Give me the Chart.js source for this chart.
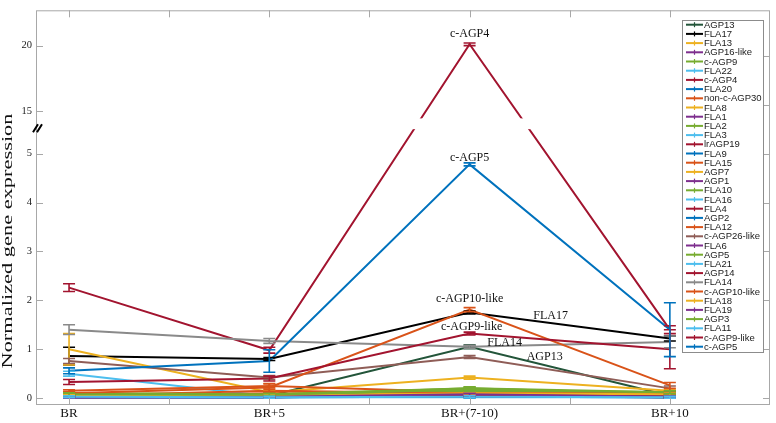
<!DOCTYPE html>
<html><head><meta charset="utf-8">
<script src="https://cdn.jsdelivr.net/npm/chart.js@4.4.0/dist/chart.umd.min.js"></script>
<style>html,body{margin:0;padding:0;background:#fff;}#wrap{width:776px;height:423px;position:relative;}</style>
</head><body><div id="wrap"><canvas id="c" width="776" height="423"></canvas></div>
<script>
// ---------- data ----------
const categories = ['BR', 'BR+5', 'BR+(7-10)', 'BR+10'];
const categoryX = [1, 3, 5, 7];
const seriesNames = ['AGP13','FLA17','FLA13','AGP16-like','c-AGP9','FLA22','c-AGP4','FLA20','non-c-AGP30','FLA8','FLA1','FLA2','FLA3','lrAGP19','FLA9','FLA15','AGP7','AGP1','FLA10','FLA16','FLA4','AGP2','FLA12','c-AGP26-like','FLA6','AGP5','FLA21','AGP14','FLA14','c-AGP10-like','FLA18','FLA19','AGP3','FLA11','c-AGP9-like','c-AGP5'];
// values per category, same order as seriesNames
const valBR    = [0.05,0.86,1.00,0.02,0.08,0.50,2.26,0.03,0.15,0.05,0.02,0.10,0.02,0.03,0.02,0.05,0.04,0.03,0.06,0.03,0.02,0.02,0.05,0.76,0.02,0.10,0.04,0.04,1.40,0.10,0.05,0.02,0.08,0.03,0.33,0.56];
const valBR5   = [0.05,0.80,0.12,0.02,0.06,0.04,0.98,0.03,0.25,0.03,0.02,0.08,0.02,0.03,0.02,0.10,0.06,0.03,0.05,0.02,0.03,0.02,0.15,0.42,0.02,0.08,0.03,0.05,1.17,0.22,0.05,0.03,0.07,0.02,0.40,0.76];
const valBR710 = [1.05,1.75,0.42,0.08,0.20,0.03,20.1,0.10,0.12,0.10,0.05,0.15,0.02,0.05,0.03,0.08,0.10,0.08,0.18,0.04,0.04,0.05,0.10,0.84,0.06,0.20,0.05,0.06,1.05,1.81,0.10,0.08,0.17,0.03,1.32,4.78];
const valBR10  = [0.05,1.22,0.15,0.03,0.08,0.02,1.40,0.03,0.08,0.05,0.02,0.10,0.02,0.03,0.02,0.05,0.06,0.03,0.10,0.02,0.02,0.02,0.10,0.20,0.03,0.12,0.03,0.04,1.15,0.26,0.08,0.03,0.12,0.02,1.00,1.40];
// error bars (half-lengths)
const errBR    = [0.02,0.18,0.32,0.02,0.03,0.05,0.08,0.02,0.02,0.02,0.02,0.03,0.02,0.02,0.02,0.02,0.02,0.02,0.03,0.02,0.02,0.02,0.02,0.05,0.02,0.03,0.02,0.02,0.10,0.03,0.02,0.02,0.03,0.02,0.05,0.06];
const errBR5   = [0.02,0.03,0.04,0.02,0.02,0.02,0.06,0.02,0.04,0.02,0.02,0.02,0.02,0.02,0.02,0.03,0.02,0.02,0.02,0.02,0.02,0.02,0.03,0.04,0.02,0.02,0.02,0.02,0.05,0.08,0.02,0.02,0.02,0.02,0.05,0.23];
const errBR710 = [0.04,0.03,0.03,0.02,0.03,0.02,0.10,0.02,0.02,0.02,0.02,0.02,0.02,0.02,0.02,0.02,0.02,0.02,0.03,0.02,0.02,0.02,0.02,0.03,0.02,0.03,0.02,0.02,0.03,0.04,0.02,0.02,0.03,0.02,0.03,0.03];
const errBR10  = [0.04,0.05,0.03,0.02,0.03,0.02,0.08,0.02,0.03,0.02,0.02,0.03,0.02,0.02,0.02,0.02,0.02,0.02,0.03,0.02,0.02,0.02,0.03,0.05,0.02,0.03,0.02,0.02,0.12,0.06,0.02,0.02,0.03,0.02,0.40,0.55];
const yTickValues = [0, 1, 2, 3, 4, 5, 15, 20];
const xTickPositions = [1, 2, 3, 4, 5, 6, 7];
const annotText = ['c-AGP4','c-AGP5','c-AGP10-like','FLA17','c-AGP9-like','FLA14','AGP13'];
const annotX = [5, 5, 5, 5.81, 5.02, 5.35, 5.75];
const annotY = [20.9, 4.92, 2.03, 1.69, 1.45, 1.14, 0.84];

// ---------- styles ----------
const C = {blue:'#0072BD', orange:'#D95319', yellow:'#EDB120', purple:'#7E2F8E', green:'#77AC30', lblue:'#4DBEEE', red:'#A2142F'};
const seriesColors = ['#23553a','#000000',C.yellow,C.purple,C.green,C.lblue,C.red,C.blue,C.orange,C.yellow,C.purple,C.green,C.lblue,C.red,C.blue,C.orange,C.yellow,C.purple,C.green,C.lblue,C.red,C.blue,C.orange,'#8f5d57',C.purple,C.green,C.lblue,C.red,'#8a8a8a',C.orange,C.yellow,C.purple,C.green,C.lblue,C.red,C.blue];

// broken-axis transform: 0..5 linear, then 15..20 compressed
const BREAK_LO = 5.863, UPPER_SCALE = 0.269;
function T(v){ return v <= 5 ? v : BREAK_LO + (v - 15) * UPPER_SCALE; }

const valsByCat = [valBR, valBR5, valBR710, valBR10];
const errsByCat = [errBR, errBR5, errBR710, errBR10];
const N = seriesNames.length;

const datasets = seriesNames.map((name, i) => ({
  label: name,
  data: categoryX.map((cx, j) => ({x: cx, y: T(valsByCat[j][i])})),
  borderColor: seriesColors[i],
  backgroundColor: seriesColors[i],
  borderWidth: 2,
  pointRadius: 0,
  tension: 0,
  fill: false,
  order: N - i
}));

const AXIS = '#a8a8a8';
const SERIF = '"Liberation Serif", "Times New Roman", serif';
const SANS = '"Liberation Sans", Arial, sans-serif';

const decor = {
  id: 'decor',
  afterDatasetsDraw(chart){
    const {ctx, chartArea: a, scales: {x, y}} = chart;
    ctx.save();
    // break gap
    const g1 = y.getPixelForValue(5.72), g2 = y.getPixelForValue(5.50);
    ctx.fillStyle = '#fff';
    ctx.fillRect(a.left + 1, g1, a.right - a.left - 2, g2 - g1);
    // error bars
    for (let i = 0; i < N; i++){
      ctx.strokeStyle = seriesColors[i];
      ctx.lineWidth = 1.6;
      categoryX.forEach((cx, j) => {
        const v = valsByCat[j][i], e = errsByCat[j][i];
        const px = x.getPixelForValue(cx);
        const top = y.getPixelForValue(T(v + e)), bot = y.getPixelForValue(T(Math.max(v - e, 0)));
        ctx.beginPath();
        ctx.moveTo(px, top); ctx.lineTo(px, bot);
        ctx.moveTo(px - 6, top); ctx.lineTo(px + 6, top);
        ctx.moveTo(px - 6, bot); ctx.lineTo(px + 6, bot);
        ctx.stroke();
      });
    }
    // annotations
    ctx.fillStyle = '#111';
    ctx.font = '12px ' + SERIF;
    ctx.textAlign = 'center'; ctx.textBaseline = 'middle';
    annotText.forEach((t, k) => {
      ctx.fillText(t, x.getPixelForValue(annotX[k]), y.getPixelForValue(T(annotY[k])));
    });
    ctx.restore();
  },
  afterDraw(chart){
    const {ctx, chartArea: a, scales: {x, y}} = chart;
    ctx.save();
    // box
    ctx.strokeStyle = AXIS; ctx.lineWidth = 1;
    ctx.strokeRect(a.left + 0.5, a.top + 0.5, a.right - a.left - 1, a.bottom - a.top - 1);
    // ticks
    ctx.beginPath();
    xTickPositions.forEach(v => {
      const px = Math.round(x.getPixelForValue(v)) + 0.5;
      ctx.moveTo(px, a.bottom); ctx.lineTo(px, a.bottom - 7);
      ctx.moveTo(px, a.top); ctx.lineTo(px, a.top + 7);
    });
    yTickValues.forEach(v => {
      const py = Math.round(y.getPixelForValue(T(v))) + 0.5;
      ctx.moveTo(a.left, py); ctx.lineTo(a.left + 7, py);
    });
    for (let t = 0; t <= 7; t++){
      const py = Math.round(y.getPixelForValue(t)) + 0.5;
      ctx.moveTo(a.right, py); ctx.lineTo(a.right - 7, py);
    }
    ctx.stroke();
    // break mark
    ctx.strokeStyle = '#000'; ctx.lineWidth = 2;
    const by = y.getPixelForValue(5.52);
    ctx.beginPath();
    ctx.moveTo(a.left - 3, by + 4); ctx.lineTo(a.left + 2, by - 4);
    ctx.moveTo(a.left + 1, by + 4); ctx.lineTo(a.left + 6, by - 4);
    ctx.stroke();
    // legend
    const lx = 682, ly = 20, lw = 81, lh = 332, step = 9.2;
    ctx.fillStyle = '#fff'; ctx.fillRect(lx, ly, lw, lh);
    ctx.strokeStyle = '#8c8c8c'; ctx.lineWidth = 1;
    ctx.strokeRect(lx + 0.5, ly + 0.5, lw, lh);
    ctx.font = '9.5px ' + SANS; ctx.textAlign = 'left'; ctx.textBaseline = 'middle';
    chart.data.datasets.forEach((ds, i) => {
      const yy = ly + 4.7 + i * step;
      ctx.strokeStyle = ds.borderColor; ctx.lineWidth = 2;
      ctx.beginPath(); ctx.moveTo(lx + 4, yy); ctx.lineTo(lx + 21, yy); ctx.stroke();
      ctx.lineWidth = 1.2;
      ctx.beginPath(); ctx.moveTo(lx + 12.5, yy - 2.5); ctx.lineTo(lx + 12.5, yy + 2.5); ctx.stroke();
      ctx.fillStyle = '#1a1a1a';
      ctx.fillText(ds.label, lx + 22, yy + 0.5);
    });
    // y title (stretched along its length like the reference)
    ctx.translate(8, 241); ctx.rotate(-Math.PI / 2); ctx.scale(1.6, 1);
    ctx.fillStyle = '#111'; ctx.font = '14px ' + SERIF;
    ctx.textAlign = 'center'; ctx.textBaseline = 'middle';
    ctx.fillText('Normalized gene expression', 0, 0);
    ctx.restore();
  }
};

new Chart(document.getElementById('c'), {
  type: 'line',
  data: { datasets },
  options: {
    responsive: false, animation: false, devicePixelRatio: 1,
    layout: { padding: { top: 3, right: 6, left: 0, bottom: 0 } },
    plugins: { legend: { display: false }, tooltip: { enabled: false } },
    scales: {
      x: {
        type: 'linear', min: 0.67, max: 8,
        grid: { display: false, drawTicks: false },
        border: { display: false },
        afterBuildTicks: s => { s.ticks = xTickPositions.map(v => ({value: v})); },
        afterFit: s => { s.height = 18; },
        ticks: {
          autoSkip: false, maxRotation: 0, padding: 1, color: '#111',
          font: { family: SERIF, size: 13 },
          callback: v => { const k = categoryX.indexOf(v); return k >= 0 ? categories[k] : ''; }
        }
      },
      y: {
        type: 'linear', min: -0.14, max: 7.93,
        grid: { display: false, drawTicks: false },
        border: { display: false },
        afterBuildTicks: s => { s.ticks = yTickValues.map(v => ({value: T(v)})); },
        afterFit: s => { s.width = 36; },
        ticks: {
          autoSkip: false, padding: 4, color: '#222',
          font: { family: SERIF, size: 10.5 },
          callback: (v, idx) => String(yTickValues[idx])
        }
      }
    }
  },
  plugins: [decor]
});
</script></body></html>
